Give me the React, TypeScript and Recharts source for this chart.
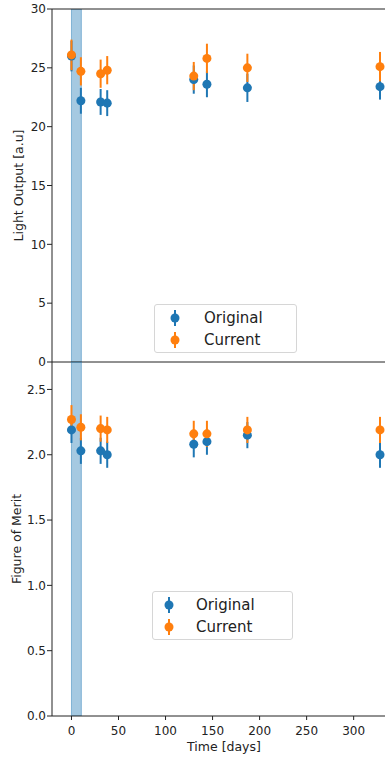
import React from "react";
import {
  ErrorBar,
  ReferenceArea,
  ReferenceLine,
  Scatter,
  ScatterChart,
  XAxis,
  YAxis,
} from "recharts";

// measurement days (shared by both panels)
const DAYS = [0, 10, 31, 38, 130, 144, 187, 328];

// light output [a.u]
const LO_ORIGINAL = [26.0, 22.2, 22.1, 22.0, 24.0, 23.6, 23.3, 23.4];
const LO_ORIGINAL_ERR = [1.3, 1.1, 1.1, 1.1, 1.2, 1.1, 1.2, 1.1];
const LO_CURRENT = [26.1, 24.7, 24.5, 24.8, 24.3, 25.8, 25.0, 25.1];
const LO_CURRENT_ERR = [1.3, 1.2, 1.2, 1.2, 1.2, 1.25, 1.2, 1.25];

// figure of merit
const FOM_ORIGINAL = [2.19, 2.03, 2.03, 2.0, 2.08, 2.1, 2.15, 2.0];
const FOM_ORIGINAL_ERR = [0.1, 0.1, 0.1, 0.1, 0.1, 0.1, 0.1, 0.1];
const FOM_CURRENT = [2.27, 2.21, 2.2, 2.19, 2.16, 2.16, 2.19, 2.19];
const FOM_CURRENT_ERR = [0.11, 0.1, 0.1, 0.1, 0.1, 0.1, 0.1, 0.1];

const X_TICKS = [0, 50, 100, 150, 200, 250, 300];
const LO_TICKS = [0, 5, 10, 15, 20, 25, 30];
const FOM_TICKS = [0, 0.5, 1.0, 1.5, 2.0, 2.5];

// irradiation window shaded on both panels
const BAND = [0, 10.5];

const BLUE = "#1f77b4";
const ORANGE = "#ff7f0e";
const SPINE = "#222";
const FONT = "DejaVu Sans, sans-serif";

const SERIES = [
  { name: "Original", color: BLUE },
  { name: "Current", color: ORANGE },
];

const rows = (vals: number[], errs: number[]) =>
  DAYS.map((d, i) => ({ day: d, y: vals[i], err: errs[i] }));

const xDomain: [number, number] = [-20.7, 345];

const tickStyle = { fill: "#222", fontSize: 12, fontFamily: FONT };

function YTitle({ text, x, cy }: { text: string; x: number; cy: number }) {
  return (
    <text
      x={x}
      y={cy}
      transform={`rotate(-90, ${x}, ${cy})`}
      textAnchor="middle"
      dominantBaseline="central"
      fill="#222"
      fontSize={12.5}
      fontFamily={FONT}
    >
      {text}
    </text>
  );
}

function LegendBox({
  left,
  top,
  width,
  markerX,
  textX,
}: {
  left: number;
  top: number;
  width: number;
  markerX: number;
  textX: number;
}) {
  return (
    <div
      style={{
        position: "absolute",
        left,
        top,
        width,
        height: 49,
        boxSizing: "border-box",
        border: "1px solid #d6d6d6",
        borderRadius: 3,
        background: "rgba(255,255,255,0.8)",
        fontFamily: FONT,
        fontSize: 15,
        color: "#222",
      }}
    >
      {SERIES.map((s, i) => (
        <div
          key={s.name}
          style={{ position: "absolute", left: 0, top: 2 + i * 22, height: 22, width: "100%" }}
        >
          <svg
            width={12}
            height={22}
            style={{ position: "absolute", left: markerX - left - 6, top: 0 }}
          >
            <line x1={6} x2={6} y1={3} y2={19} stroke={s.color} strokeWidth={2} />
            <circle cx={6} cy={11} r={4.5} fill={s.color} />
          </svg>
          <span style={{ position: "absolute", left: textX - left, top: 2, lineHeight: "18px" }}>
            {s.name}
          </span>
        </div>
      ))}
    </div>
  );
}

function Panel({
  original,
  current,
  domain,
  ticks,
  fmt,
  title,
  titleX,
  bottom,
}: {
  original: { day: number; y: number; err: number }[];
  current: { day: number; y: number; err: number }[];
  domain: [number, number];
  ticks: number[];
  fmt: (v: number) => string;
  title: string;
  titleX: number;
  bottom: boolean;
}) {
  return (
    <ScatterChart
      width={396}
      height={bottom ? 406 : 400}
      margin={bottom ? { top: 10, right: 0, bottom: 0, left: 0 } : { top: 9, right: 0, bottom: 8, left: 0 }}
    >
      <XAxis
        type="number"
        dataKey="day"
        domain={xDomain}
        ticks={X_TICKS}
        allowDataOverflow
        height={bottom ? 42 : 30}
        stroke={SPINE}
        tickSize={4}
        tickMargin={6}
        tick={bottom ? tickStyle : false}
        label={
          bottom
            ? {
                value: "Time [days]",
                position: "insideBottom",
                offset: 7,
                fill: "#222",
                fontSize: 12.5,
                fontFamily: FONT,
              }
            : undefined
        }
      />
      <YAxis
        type="number"
        dataKey="y"
        domain={domain}
        ticks={ticks}
        allowDataOverflow
        width={52}
        stroke={SPINE}
        tickSize={5}
        tickMargin={1}
        tick={tickStyle}
        tickFormatter={fmt}
        label={(p: any) => (
          <YTitle text={title} x={titleX} cy={p.viewBox.y + p.viewBox.height / 2} />
        )}
      />
      <ReferenceArea
        x1={BAND[0]}
        x2={BAND[1]}
        fill={BLUE}
        fillOpacity={0.4}
        stroke={BLUE}
        strokeOpacity={0.45}
        ifOverflow="hidden"
      />
      {!bottom && <ReferenceLine y={domain[1]} stroke={SPINE} strokeWidth={1} />}
      <Scatter data={original} name="Original" fill={BLUE} isAnimationActive={false}>
        <ErrorBar dataKey="err" direction="y" width={0} stroke={BLUE} strokeWidth={2} isAnimationActive={false} />
      </Scatter>
      <Scatter data={current} name="Current" fill={ORANGE} isAnimationActive={false}>
        <ErrorBar dataKey="err" direction="y" width={0} stroke={ORANGE} strokeWidth={2} isAnimationActive={false} />
      </Scatter>
    </ScatterChart>
  );
}

export default function App() {
  return (
    <div
      style={{
        position: "absolute",
        left: 0,
        top: 0,
        width: 385,
        height: 758,
        overflow: "hidden",
        background: "#fff",
      }}
    >
      <div style={{ position: "absolute", left: 0, top: 0 }}>
        <Panel
          original={rows(LO_ORIGINAL, LO_ORIGINAL_ERR)}
          current={rows(LO_CURRENT, LO_CURRENT_ERR)}
          domain={[0, 30]}
          ticks={LO_TICKS}
          fmt={(v) => String(v)}
          title="Light Output [a.u]"
          titleX={18.3}
          bottom={false}
        />
      </div>
      <div style={{ position: "absolute", left: 0, top: 352 }}>
        <Panel
          original={rows(FOM_ORIGINAL, FOM_ORIGINAL_ERR)}
          current={rows(FOM_CURRENT, FOM_CURRENT_ERR)}
          domain={[0, 2.71]}
          ticks={FOM_TICKS}
          fmt={(v) => v.toFixed(1)}
          title="Figure of Merit"
          titleX={16.7}
          bottom
        />
      </div>
      <LegendBox left={154} top={304} width={143} markerX={174} textX={203} />
      <LegendBox left={152} top={591} width={141} markerX={168} textX={195} />
    </div>
  );
}
